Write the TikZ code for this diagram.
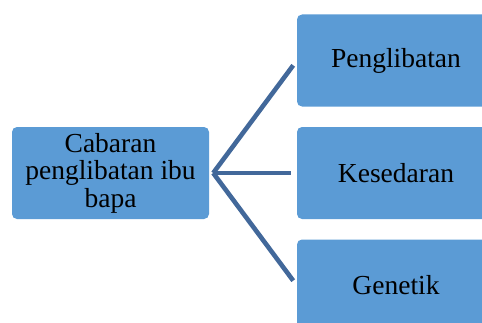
\documentclass[tikz,border=0pt]{standalone}
\usepackage{fontspec}
\setmainfont{Liberation Serif}
\begin{document}
\begin{tikzpicture}[x=1pt,y=1pt,
  box/.style={rectangle, rounded corners=5pt, fill=boxblue, draw=none, minimum width=198pt, minimum height=92pt, inner sep=0pt, align=center, font=\fontsize{27.5}{27.5}\selectfont, text=black},
  link/.style={draw=linkblue, line width=4.6pt}]
\definecolor{boxblue}{HTML}{5B9BD5}
\definecolor{linkblue}{HTML}{42689A}
\useasboundingbox (0,0) rectangle (482,322);
\clip (0,0) rectangle (482,322);
\node[box, minimum width=197pt] (src) at (110.5,149) {Cabaran\\penglibatan ibu\\bapa};
\node[box] (a) at (396,261.5) {Penglibatan};
\node[box] (b) at (396,149) {Kesedaran};
\node[box] (c) at (396,36.5) {Genetik};
\coordinate (apex) at ([xshift=4pt]src.east);
\draw[link, shorten >=6pt] (apex) -- (a.west);
\draw[link, shorten >=6pt] (apex) -- (b.west);
\draw[link, shorten >=6pt] (apex) -- (c.west);
\end{tikzpicture}
\end{document}
